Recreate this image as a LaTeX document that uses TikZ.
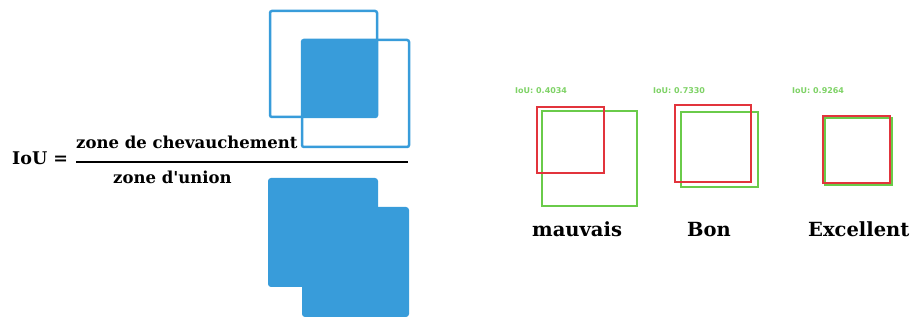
\documentclass[tikz,border=0pt]{standalone}
\usepackage{fontspec}
\setmainfont{DejaVu Serif}
\newfontfamily\smallsans{DejaVu Sans}
\definecolor{ioublue}{HTML}{389CDA}
\definecolor{boxred}{HTML}{E2343C}
\definecolor{boxgreen}{HTML}{6ACB4A}
\definecolor{txtgreen}{HTML}{7ED266}
\begin{document}
\begin{tikzpicture}[x=1pt,y=-1pt,
  outl/.style={draw=ioublue,line width=2.5pt,rounded corners=2pt},
  filled/.style={fill=ioublue,rounded corners=3pt},
  predbox/.style={draw=boxred,line width=2.3pt},
  gtbox/.style={draw=boxgreen,line width=2.3pt},
  scoretxt/.style={inner sep=0,anchor=base west,text=txtgreen,font=\smallsans\bfseries\fontsize{8}{9}\selectfont},
  bigtxt/.style={inner sep=0,anchor=base west,font=\bfseries\fontsize{19.5}{21}\selectfont},
  iutxt/.style={inner sep=0,anchor=base west,font=\bfseries\fontsize{17.5}{19}\selectfont},
  fractxt/.style={inner sep=0,anchor=base west,font=\bfseries\fontsize{16.5}{18}\selectfont}]
\useasboundingbox (0,0) rectangle (914,320);
% formula
\node[iutxt] (iou) at (12,165) {IoU =};
\node[fractxt] (num) at (76,149) {zone de chevauchement};
\node[fractxt] (den) at (113,184) {zone d\textquotesingle union};
\draw[line width=2.2pt] (76,162) -- (408,162);
% intersection
\fill[ioublue] (302,40) rectangle (377,117);
\draw[outl] (270,11) rectangle (377,117);
\draw[outl] (302,40) rectangle (409,147);
% union
\fill[filled] (268,178) rectangle (378,287);
\fill[filled] (302,207) rectangle (409,317);
\fill[ioublue] (302,207) rectangle (378,287);
% examples
\node[scoretxt] (s1) at (515,94) {IoU: 0.4034};
\draw[gtbox] (542,111) rectangle (637,206);
\draw[predbox] (537,107) rectangle (604,173);
\node[scoretxt] (s2) at (653,94) {IoU: 0.7330};
\draw[gtbox] (681,112) rectangle (758,187);
\draw[predbox] (675,105) rectangle (751,182);
\node[scoretxt] (s3) at (792,94) {IoU: 0.9264};
\draw[gtbox] (825,118) rectangle (892,185);
\draw[predbox] (823,116) rectangle (890,183);
\node[bigtxt] (l1) at (532,237) {mauvais};
\node[bigtxt] (l2) at (687,237) {Bon};
\node[bigtxt] (l3) at (808,237) {Excellent};
\end{tikzpicture}
\end{document}
